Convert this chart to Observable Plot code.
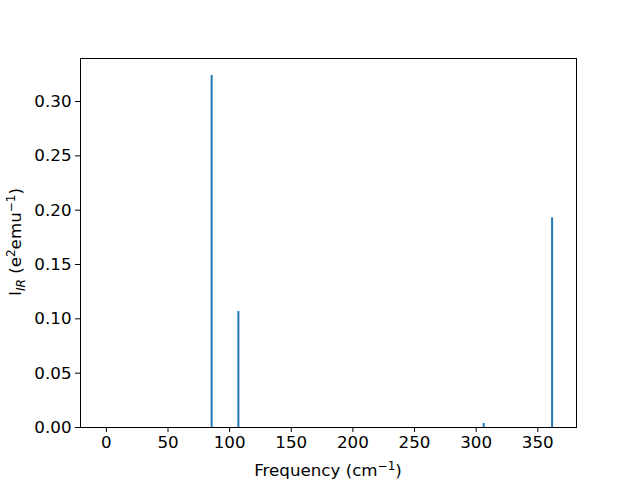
<!DOCTYPE html>
<html>
<head>
<meta charset="utf-8">
<script src="https://cdn.jsdelivr.net/npm/d3@7"></script>
<script src="https://cdn.jsdelivr.net/npm/@observablehq/plot@0.6"></script>
<style>
  body { margin: 0; background: #fff; }
  svg { font-family: "DejaVu Sans", sans-serif; }
</style>
</head>
<body>
<div id="chart"></div>
<script>
const frequencies = [85.8, 107.5, 306.5, 362.0];
const intensities = [0.324, 0.1067, 0.0037, 0.193];
const xTicks = [0, 50, 100, 150, 200, 250, 300, 350];
const yTicks = [0, 0.05, 0.10, 0.15, 0.20, 0.25, 0.30];

const data = frequencies.map((f, i) => ({f, v: intensities[i]}));

const chart = Plot.plot({
  width: 640,
  height: 480,
  marginLeft: 80,
  marginRight: 64,
  marginTop: 58,
  marginBottom: 53,
  style: {fontSize: "16.7px", fontFamily: "DejaVu Sans, sans-serif", color: "#000", background: "#fff"},
  x: {domain: [-21, 381.4], label: null},
  y: {domain: [0, 0.3396], label: null},
  marks: [
    Plot.rectY(data, {x1: d => d.f - 0.8, x2: d => d.f + 0.8, y1: 0, y2: "v", fill: "#1f77b4"}),
    Plot.frame({stroke: "#000", strokeWidth: 1}),
    Plot.axisX({ticks: xTicks, tickSize: 5, tickPadding: 4, fontSize: 16.7}),
    Plot.axisY({ticks: yTicks, tickSize: 5, tickPadding: 4, fontSize: 16.7, tickFormat: d3.format(".2f")})
  ]
});
document.getElementById("chart").appendChild(chart);

const svg = d3.select(chart);
// x label
const xl = svg.append("text")
  .attr("x", 328).attr("y", 476)
  .attr("text-anchor", "middle")
  .attr("font-size", 16.7).attr("fill", "#000");
xl.append("tspan").text("Frequency (cm");
xl.append("tspan").attr("dy", -6).attr("font-size", 12).text("−1");
xl.append("tspan").attr("dy", 6).text(")");

// y label
const yl = svg.append("text")
  .attr("transform", "translate(21,242) rotate(-90)")
  .attr("text-anchor", "middle")
  .attr("font-size", 16.7).attr("fill", "#000");
yl.append("tspan").text("I");
yl.append("tspan").attr("dy", 4).attr("font-size", 12).attr("font-style", "italic").text("IR");
yl.append("tspan").attr("dy", -4).text(" (e");
yl.append("tspan").attr("dy", -6).attr("font-size", 12).text("2");
yl.append("tspan").attr("dy", 6).text("emu");
yl.append("tspan").attr("dy", -6).attr("font-size", 12).text("−1");
yl.append("tspan").attr("dy", 6).text(")");
</script>
</body>
</html>
